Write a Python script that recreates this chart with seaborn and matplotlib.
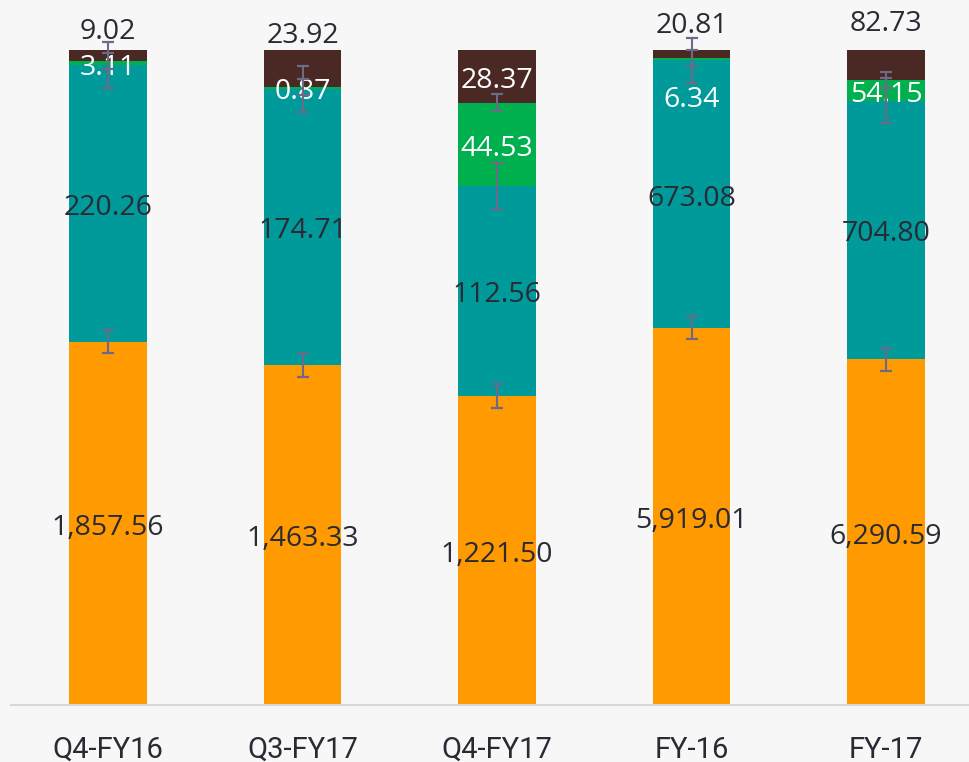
import numpy as np
import pandas as pd
import matplotlib
matplotlib.use("Agg")
import matplotlib.pyplot as plt
import matplotlib.transforms as mtransforms
import seaborn as sns

# ---------------- data ----------------
categories = ["Q4-FY16", "Q3-FY17", "Q4-FY17", "FY-16", "FY-17"]

# segment heights (share of bar, %) as drawn in the reference
orange_pct = [55.47, 51.91, 47.18, 57.60, 52.78]
teal_pct = [42.24, 42.21, 32.06, 40.82, 39.48]
green_pct = [0.61, 0.18, 12.72, 0.31, 3.16]
brown_pct = [1.68, 5.69, 8.05, 1.27, 4.58]

# data labels shown on the segments
orange_vals = [1857.56, 1463.33, 1221.50, 5919.01, 6290.59]
teal_vals = [220.26, 174.71, 112.56, 673.08, 704.80]
green_vals = [3.11, 0.87, 44.53, 6.34, 54.15]
brown_vals = [9.02, 23.92, 28.37, 20.81, 82.73]

# error bar half-widths (percentage points) at each segment top
err_orange = [1.76, 1.80, 1.79, 1.79, 1.73]
err_teal = [3.44, 3.51, 3.44, 3.47, 3.44]
err_green = [1.27, 1.22, 1.27, 1.22, 1.27]

# ---------------- style ----------------
C_ORANGE = "#FF9A00"
C_TEAL = "#009A9A"
C_GREEN = "#00B04F"
C_BROWN = "#4A2924"
C_ERR = "#6C6A86"
C_TEXT = "#2A2A35"
BG = "#F7F7F7"

sns.set_theme(style="white")
plt.rcParams["font.family"] = ["Open Sans", "DejaVu Sans"]

W, H = 969, 762
fig = plt.figure(figsize=(W / 100, H / 100), dpi=100, facecolor=BG)
left_px, bottom_px, top_axis_px = 10.75, 705, 50
ax = fig.add_axes([left_px / W, (H - bottom_px) / H, (W - left_px) / W, bottom_px / H])
ax.set_facecolor(BG)

df = pd.DataFrame({
    "cat": categories,
    "orange": orange_pct,
    "teal": teal_pct,
    "green": green_pct,
    "brown": brown_pct,
})
df["c1"] = df["orange"]
df["c2"] = df["c1"] + df["teal"]
df["c3"] = df["c2"] + df["green"]
df["c4"] = df["c3"] + df["brown"]

for col, colr in [("c4", C_BROWN), ("c3", C_GREEN), ("c2", C_TEAL), ("c1", C_ORANGE)]:
    sns.barplot(data=df, x="cat", y=col, order=categories, color=colr,
                saturation=1, width=0.4, linewidth=0, ax=ax, zorder=2)

x = np.arange(len(categories))

# error bars at segment tops
for tops, errs in [(df["c1"], err_orange), (df["c2"], err_teal), (df["c3"], err_green)]:
    ax.errorbar(x, tops, yerr=errs, fmt="none", ecolor=C_ERR, elinewidth=1.5,
                capsize=4.2, capthick=1.6, zorder=5)

# scale: 100% spans from bottom_px to top_axis_px
span = bottom_px - top_axis_px
ax.set_xlim(-0.5, -0.5 + (W - left_px) / 194.5)
ax.set_ylim(0, bottom_px / span * 100)

# data labels (nudged down a few pixels so glyphs sit centred)
FS = 20.5
tr = ax.transData + mtransforms.ScaledTranslation(0, -4.5 / 100, fig.dpi_scale_trans)

def fmt(v):
    return f"{v:,.2f}"

def label(xp, yp, s, colr):
    ax.text(xp, yp, s, ha="center", va="center", fontsize=FS, color=colr,
            zorder=4, transform=tr)

brown_above = {0: 103.5, 1: 102.9, 3: 104.3, 4: 104.7}
green_override = {3: 93.1}
for i in range(len(categories)):
    c1, c2, c3, c4 = df.loc[i, ["c1", "c2", "c3", "c4"]]
    label(i, c1 / 2, fmt(orange_vals[i]), C_TEXT)
    label(i, (c1 + c2) / 2, fmt(teal_vals[i]), C_TEXT)
    label(i, green_override.get(i, (c2 + c3) / 2), fmt(green_vals[i]), "white")
    if i in brown_above:
        label(i, brown_above[i], fmt(brown_vals[i]), C_TEXT)
    else:
        label(i, (c3 + c4) / 2, fmt(brown_vals[i]), "white")

# axes styling
for s in ["left", "right", "top"]:
    ax.spines[s].set_visible(False)
ax.spines["bottom"].set_color("#D6D6DC")
ax.spines["bottom"].set_linewidth(1.5)
ax.set_xlabel("")
ax.set_ylabel("")
ax.set_yticks([])
ax.set_xticks(x)
ax.set_xticklabels(categories, fontsize=21, color=C_TEXT, family=["Roboto", "DejaVu Sans"])
ax.tick_params(axis="x", length=0, pad=22)

fig.savefig("out.png", dpi=100, facecolor=BG)
